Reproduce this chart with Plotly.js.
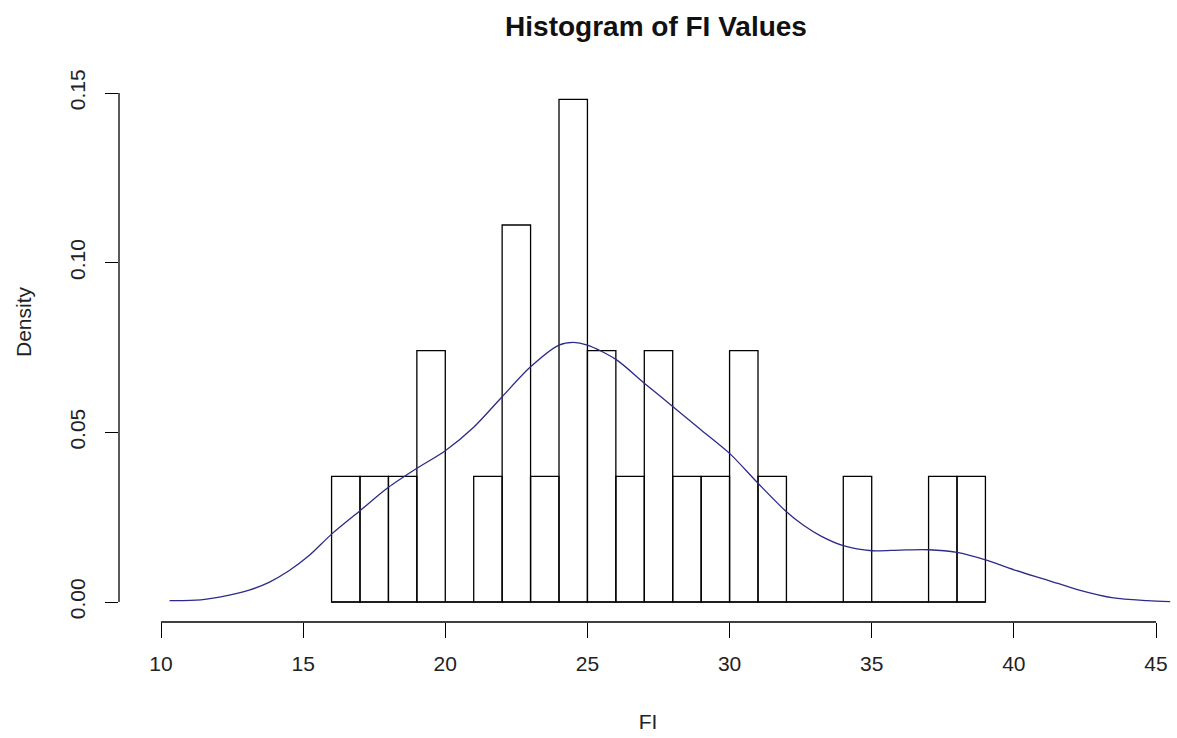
<!DOCTYPE html>
<html>
<head>
<meta charset="utf-8">
<script src="https://cdn.plot.ly/plotly-3.0.1.min.js"></script>
<style>html,body{margin:0;padding:0;background:#fff;}#chart{width:1177px;height:738px;}</style>
</head>
<body>
<div id="chart"></div>
<script>
// Histogram bins (left edges, width 1) and densities
var binLeft = [16,17,18,19,20,21,22,23,24,25,26,27,28,29,30,31,32,33,34,35,36,37,38];
var binDensity = [0.0370,0.0370,0.0370,0.0741,0,0.0370,0.1111,0.0370,0.1481,0.0741,0.0370,0.0741,0.0370,0.0370,0.0741,0.0370,0,0,0.0370,0,0,0.0370,0.0370];
var binWidth = 1;

// Kernel density curve
var kdeX = [10.3,11.4,12.4,13.1,13.8,14.5,15.2,16,17,18,19,20,21,22,23,24,24.5,25,26,27,28,29,30,31,32,32.6,33.2,34,35,36,37,38,39,40,41.2,42.3,43.5,44.7,45.5];
var kdeY = [0.0004,0.0006,0.002,0.0035,0.0058,0.0092,0.0136,0.020,0.0269,0.0338,0.0394,0.0446,0.0515,0.0605,0.0693,0.0757,0.0765,0.0757,0.0715,0.0645,0.0576,0.0507,0.0438,0.035,0.0266,0.0226,0.0195,0.0166,0.0151,0.0153,0.0154,0.0146,0.0124,0.0095,0.0064,0.0035,0.0012,0.0004,0.0001];

var xTicks = [10,15,20,25,30,35,40,45];
var xTickText = ["10","15","20","25","30","35","40","45"];
var yTicks = [0,0.05,0.10,0.15];
var yTickText = ["0.00","0.05","0.10","0.15"];

var centers = binLeft.map(function(l){return l + binWidth/2;});
var lastEdge = binLeft[binLeft.length-1] + binWidth;

var traces = [
  {
    type:'scatter', mode:'lines',
    x:[binLeft[0], lastEdge], y:[0,0],
    line:{color:'#000', width:1}, hoverinfo:'skip', showlegend:false
  },
  {
    type:'bar', x:centers, y:binDensity, width:binWidth,
    marker:{color:'rgba(255,255,255,0)', line:{color:'#000', width:1.3}},
    showlegend:false
  },
  {
    type:'scatter', mode:'lines', x:kdeX, y:kdeY,
    line:{color:'#2b2b88', width:1.3, shape:'spline', smoothing:0.8},
    showlegend:false
  }
];

var pxPerUnitY = 509/0.15;
var plotTop = 22, zeroPx = 602, bottomPx = 622;
var pxPerUnitX = 995/35;
var leftPx = 119, tenPx = 161, rightPx = 1177;

var layout = {
  width:1177, height:738,
  margin:{l:leftPx, r:1177-rightPx, t:plotTop, b:738-bottomPx, pad:0},
  paper_bgcolor:'#fff', plot_bgcolor:'#fff',
  font:{family:'Liberation Sans, Arial, sans-serif', color:'#222', size:21},
  title:{
    text:'Histogram of FI Values',
    font:{family:'Liberation Sans, Arial, sans-serif', size:28, color:'#111', weight:'bold'},
    xref:'container', yref:'container', x:656/1177, xanchor:'center', y:1-26/738, yanchor:'middle'
  },
  bargap:0,
  xaxis:{
    range:[10-(tenPx-leftPx)/pxPerUnitX, 10+(rightPx-tenPx)/pxPerUnitX],
    tickvals:xTicks, ticktext:xTickText,
    ticks:'outside', ticklen:15, tickwidth:1, tickcolor:'#000',
    showgrid:false, zeroline:false, showline:false,
    ticklabelstandoff:8,
    tickfont:{size:21, color:'#222'},
    title:{text:'FI', font:{size:21, color:'#222'}, standoff:40}
  },
  yaxis:{
    range:[-(bottomPx-zeroPx)/pxPerUnitY, (zeroPx-plotTop)/pxPerUnitY],
    tickvals:yTicks, ticktext:yTickText, tickangle:-90,
    ticks:'outside', ticklen:13, tickwidth:1, tickcolor:'#000',
    showgrid:false, zeroline:false, showline:false,
    ticklabelstandoff:12,
    tickfont:{size:21, color:'#222'},
    title:{text:'Density', font:{size:21, color:'#222'}, standoff:28}
  },
  shapes:[
    {type:'line', xref:'x', yref:'paper', x0:xTicks[0], x1:xTicks[xTicks.length-1], y0:0, y1:0, line:{color:'#000', width:1.3}},
    {type:'line', xref:'paper', yref:'y', x0:0, x1:0, y0:yTicks[0], y1:yTicks[yTicks.length-1], line:{color:'#000', width:1.3}}
  ]
};

Plotly.newPlot('chart', traces, layout, {staticPlot:true, displayModeBar:false});
</script>
</body>
</html>
